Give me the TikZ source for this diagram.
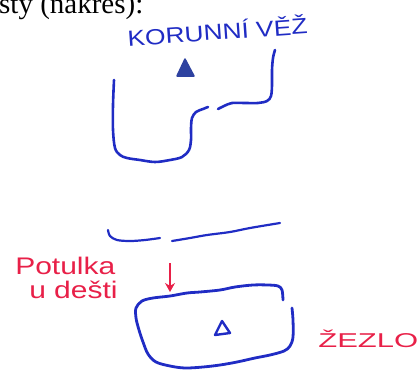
\documentclass[tikz,border=0pt]{standalone}
\usepackage{fontspec}
\usetikzlibrary{arrows.meta}
\setmainfont{Liberation Serif}
\newfontfamily\handfont{Liberation Sans}
\definecolor{blueink}{RGB}{32,44,196}
\definecolor{redink}{RGB}{232,32,72}
\definecolor{triblue}{RGB}{46,66,160}
\tikzset{
  inkline/.style={draw=blueink, line width=2.6pt, line cap=round, line join=round},
  bluelabel/.style={text=blueink, font=\handfont, inner sep=0pt},
  redlabel/.style={text=redink, font=\handfont, inner sep=0pt},
}
\begin{document}
\begin{tikzpicture}[x=1pt, y=-1pt]
\useasboundingbox (0,0) rectangle (419,369);
% title (cut off at top)
\node[anchor=base west, inner sep=0pt, font=\fontsize{29}{30}\selectfont] (title) at (-1,14) {sty (nákres):};
% blue label
\node[bluelabel, anchor=base, rotate=4, xscale=1.2, font=\handfont\fontsize{22}{22}\selectfont] (koruna) at (218,40) {KORUNNÍ VĚŽ};
% filled triangle
\filldraw[fill=triblue, draw=triblue, line width=1.5pt, line join=round] (177,76) -- (194,76) -- (185,59) -- cycle;
\coordinate (tri1) at (185,70);
% tower outline, part 1
\draw[inkline] plot[smooth, tension=0.55] coordinates {(114,80) (113,105) (113,130) (115,148) (120,155) (127,158) (140,160) (155,162) (170,160) (182,157) (189,150) (191,140) (191,128) (192,118) (196,112) (203,109) (208,107)};
% tower outline, part 2
\draw[inkline] plot[smooth, tension=0.55] coordinates {(218,109) (224,106) (232,103) (245,103) (258,103) (267,101) (271,96) (272,85) (272,70) (273,58) (275,50)};
% ground line
\draw[inkline, line width=2.2pt] plot[smooth, tension=0.55] coordinates {(108,230) (110,236) (117,240) (130,241) (145,240) (160,238)};
\draw[inkline, line width=2.2pt] plot[smooth, tension=0.55] coordinates {(172,241) (190,238) (207,235) (230,232) (250,228) (280,223)};
% red label and arrow
\node[redlabel, anchor=base west, xscale=1.25, font=\handfont\fontsize{24}{24}\selectfont] (potulka) at (15,274) {Potulka};
\node[redlabel, anchor=base west, xscale=1.25, font=\handfont\fontsize{24}{24}\selectfont] (dest) at (29,298) {u dešti};
\coordinate (arrtop) at (170,263);
\coordinate (arrtip) at (170,292);
\draw[redink, line width=1.3pt, -{Stealth[length=9pt, width=10pt]}] (arrtop) -- (arrtip);
% scepter box
\draw[inkline, line width=2.8pt] plot[smooth, tension=0.55] coordinates {(283,300) (282,290) (278,286) (268,285) (253,285) (235,287) (220,290) (200,292) (187,293) (170,296) (153,298) (142,301) (136,308) (136,318) (139,330) (143,342) (148,354) (156,362) (170,366) (185,368) (203,367) (220,365) (237,362) (255,358) (270,355) (284,351) (290,346) (293,337) (293,320) (292,308)};
% small outline triangle
\draw[inkline, line width=2.4pt] (215,335) -- (230,333) -- (222,321) -- cycle;
% red label right
\node[redlabel, anchor=base west, xscale=1.55, font=\handfont\fontsize{20}{20}\selectfont] (zezlo) at (318,347) {ŽEZLO};
\end{tikzpicture}
\end{document}
